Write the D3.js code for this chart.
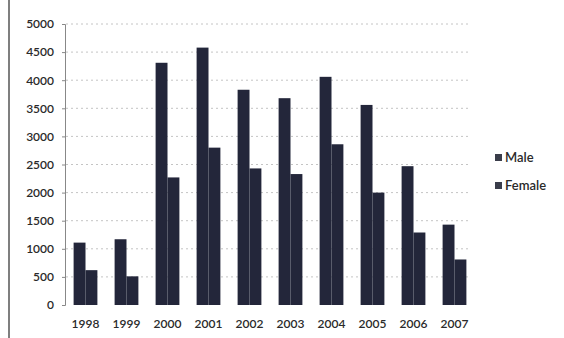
<!DOCTYPE html>
<html>
<head>
<meta charset="utf-8">
<script src="https://cdn.jsdelivr.net/npm/d3@7"></script>
<style>
  body { margin: 0; background: #fff; }
  text { font-family: Lato, "Open Sans", sans-serif; }
</style>
</head>
<body>
<div class="chart"></div>
<script>
const years = ['1998','1999','2000','2001','2002','2003','2004','2005','2006','2007'];
const male = [1110, 1170, 4310, 4580, 3830, 3680, 4060, 3560, 2470, 1430];
const female = [620, 510, 2270, 2800, 2430, 2330, 2860, 2000, 1290, 810];
const seriesNames = ['Male', 'Female'];
const yTicks = [0, 500, 1000, 1500, 2000, 2500, 3000, 3500, 4000, 4500, 5000];

const W = 564, H = 338;
const barColor = '#23263a';

const svg = d3.select('.chart').append('svg')
    .attr('width', W)
    .attr('height', H);

// scan border on the left
svg.append('line')
    .attr('x1', 9).attr('x2', 9)
    .attr('y1', 0).attr('y2', H)
    .attr('stroke', '#555').attr('stroke-width', 1.5);

const xScale = d3.scaleBand()
    .domain(years)
    .range([65, 475])
    .paddingInner(0.42)
    .paddingOuter(0.21);

const xSub = d3.scaleBand()
    .domain(seriesNames)
    .range([0, xScale.bandwidth()]);

const yScale = d3.scaleLinear()
    .domain([0, 5000])
    .range([305, 24]);

// gridlines
svg.append('g')
    .selectAll('line')
    .data(yTicks.filter(d => d > 0))
    .enter()
    .append('line')
    .attr('x1', 66).attr('x2', 470)
    .attr('y1', d => yScale(d)).attr('y2', d => yScale(d))
    .attr('stroke', '#c4c4c4')
    .attr('stroke-dasharray', '2,3')
    .attr('stroke-width', 1);

const yAxis = d3.axisLeft(yScale)
    .tickValues(yTicks)
    .tickSize(3)
    .tickFormat(d3.format('d'));

const gy = svg.append('g')
    .attr('transform', 'translate(65,0)')
    .call(yAxis);
gy.select('.domain').attr('stroke', '#888');
gy.selectAll('.tick line').attr('stroke', '#888');
gy.selectAll('.tick text')
    .attr('x', -11)
    .attr('fill', '#2a2a2a')
    .attr('font-size', 12)
    .attr('font-weight', 600)
    .attr('font-family', 'Lato, sans-serif');

const data = years.map((y, i) => ({year: y, values: [
    {name: 'Male', value: male[i]},
    {name: 'Female', value: female[i]}
]}));

const groups = svg.selectAll('.grp')
    .data(data)
    .enter()
    .append('g')
    .attr('class', 'grp')
    .attr('transform', d => 'translate(' + xScale(d.year) + ',0)');

groups.selectAll('rect')
    .data(d => d.values)
    .enter()
    .append('rect')
    .attr('x', d => xSub(d.name))
    .attr('width', xSub.bandwidth())
    .attr('y', d => yScale(d.value))
    .attr('height', d => yScale(0) - yScale(d.value))
    .attr('fill', barColor);

const xAxis = d3.axisBottom(xScale).tickSize(0);
const gx = svg.append('g')
    .attr('transform', 'translate(0,305)')
    .call(xAxis);
gx.select('.domain').remove();
gx.selectAll('.tick text')
    .attr('dy', 20)
    .attr('fill', '#2a2a2a')
    .attr('font-size', 12)
    .attr('font-weight', 600)
    .attr('font-family', 'Lato, sans-serif');

// legend
const legend = svg.selectAll('.legend')
    .data(seriesNames)
    .enter()
    .append('g')
    .attr('class', 'legend')
    .attr('transform', (d, i) => 'translate(495,' + (154 + i * 28) + ')');

legend.append('rect')
    .attr('width', 7)
    .attr('height', 7)
    .attr('fill', '#3a3d4a');

legend.append('text')
    .attr('x', 10)
    .attr('y', 8)
    .attr('font-size', 13)
    .attr('font-weight', 600)
    .attr('fill', '#2a2a2a')
    .text(d => d);
</script>
</body>
</html>
